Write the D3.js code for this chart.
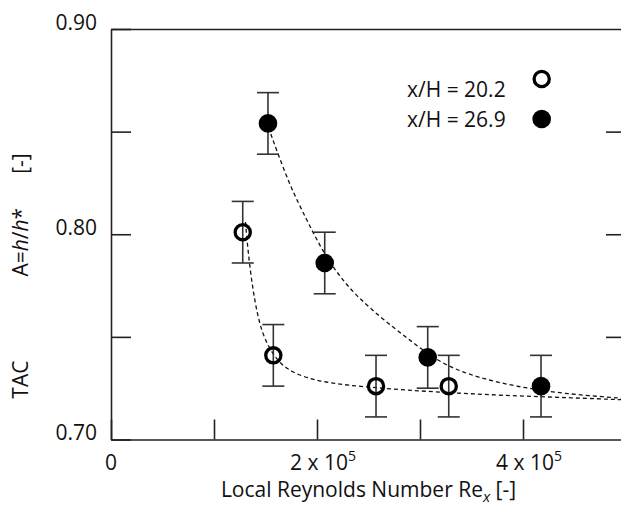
<!DOCTYPE html>
<html>
<head>
<meta charset="utf-8">
<script src="https://cdn.jsdelivr.net/npm/d3@7"></script>
<style>
  body { margin: 0; background: #fff; }
  svg { display: block; font-family: "Open Sans", sans-serif; }
</style>
</head>
<body>
<div id="chart"></div>
<script>
// Data
const reOpen = [1.279e5, 1.576e5, 2.573e5, 3.279e5];   // x/H = 20.2
const tacOpen = [0.801, 0.741, 0.726, 0.726];
const errOpen = [0.015, 0.015, 0.015, 0.015];

const reFilled = [1.524e5, 2.075e5, 3.075e5, 4.175e5]; // x/H = 26.9
const tacFilled = [0.854, 0.786, 0.740, 0.726];
const errFilled = [0.015, 0.015, 0.015, 0.015];

// dashed fit curves
const fitOpenRe = [1.306e5, 1.317e5, 1.350e5, 1.398e5, 1.463e5, 1.576e5, 1.738e5, 2.061e5, 2.547e5, 3.194e5, 3.842e5, 4.488e5, 5.0e5];
const fitOpenTac = [0.806, 0.7989, 0.7827, 0.7665, 0.7519, 0.7405, 0.7325, 0.7276, 0.7252, 0.7230, 0.7214, 0.7203, 0.7193];
const fitFilledRe = [1.529e5, 1.560e5, 1.738e5, 1.900e5, 2.029e5, 2.191e5, 2.385e5, 2.644e5, 2.935e5, 3.194e5, 3.517e5, 3.842e5, 4.165e5, 4.488e5, 5.0e5];
const fitFilledTac = [0.852, 0.8476, 0.8233, 0.8071, 0.7941, 0.7812, 0.7697, 0.7584, 0.7471, 0.7373, 0.7308, 0.7268, 0.7240, 0.7219, 0.7200];

const legendLabels = ["x/H = 20.2", "x/H = 26.9"];

const xTickValues = [0, 1e5, 2e5, 3e5, 4e5, 5e5];
const xTickLabels = [
  { v: 0, base: "0", exp: "" },
  { v: 2e5, base: "2 x 10", exp: "5" },
  { v: 4e5, base: "4 x 10", exp: "5" },
];
const yTickValues = [0.70, 0.75, 0.80, 0.85, 0.90];
const yTickLabels = [0.70, 0.80, 0.90];

// Dimensions
const width = 621;
const height = 509;
const margin = { left: 111, top: 29, bottom: 69 };
const plotRight = 626; // the right frame sits just outside the window

const svg = d3
  .select("#chart")
  .append("svg")
  .attr("width", width)
  .attr("height", height);

// Scales
const xScale = d3.scaleLinear().domain([0, 5e5]).range([margin.left, plotRight]);
const yScale = d3.scaleLinear().domain([0.70, 0.90]).range([height - margin.bottom - 0.5, margin.top]);

const axisColor = "#222";

// Axes (ticks point inward)
const yAxisLeft = svg
  .append("g")
  .attr("transform", `translate(${margin.left},0)`)
  .call(
    d3.axisLeft(yScale)
      .tickValues(yTickValues)
      .tickSize(-20)
      .tickSizeOuter(0)
      .tickPadding(14)
      .tickFormat((d) => (yTickLabels.some((t) => Math.abs(t - d) < 1e-9) ? d3.format(".2f")(d) : ""))
  );

yAxisLeft.selectAll("text")
  .attr("dy", 0)
  .attr("y", 0)
  .style("font-size", "21px")
  .style("font-family", "Open Sans")
  .attr("fill", "#111");

svg
  .append("g")
  .attr("transform", `translate(${plotRight},0)`)
  .call(d3.axisRight(yScale).tickValues([0.75, 0.80, 0.85]).tickSize(-20).tickSizeOuter(0).tickFormat(""));

svg
  .append("g")
  .attr("transform", `translate(0,${yScale(0.70)})`)
  .call(d3.axisBottom(xScale).tickValues(xTickValues).tickSize(-20).tickSizeOuter(0).tickFormat(""));

svg
  .append("g")
  .attr("transform", `translate(0,${yScale(0.90)})`)
  .call(d3.axisTop(xScale).tickValues([]).tickSizeOuter(0));

svg.selectAll(".domain, .tick line")
  .attr("stroke", axisColor)
  .attr("stroke-width", 1.6);

// x tick labels with exponent
const xLab = svg
  .append("g")
  .selectAll("text")
  .data(xTickLabels)
  .join("text")
  .attr("x", (d) => xScale(d.v) + (d.exp ? 6 : 0))
  .attr("y", 470)
  .attr("text-anchor", "middle")
  .style("font-size", "21px")
  .attr("fill", "#111");
xLab.append("tspan").text((d) => d.base);
xLab.append("tspan")
  .attr("dy", -9)
  .style("font-size", "14px")
  .text((d) => d.exp);

// Axis titles
const xTitle = svg
  .append("text")
  .attr("x", (margin.left + plotRight) / 2)
  .attr("y", 497)
  .attr("text-anchor", "middle")
  .style("font-size", "21px")
  .attr("fill", "#111");
xTitle.append("tspan").text("Local Reynolds Number Re");
xTitle.append("tspan").attr("dy", 5).style("font-size", "15px").style("font-style", "italic").text("x");
xTitle.append("tspan").attr("dy", -5).text(" [-]");

const yTitle = svg
  .append("text")
  .attr("transform", "translate(28,276) rotate(-90)")
  .attr("text-anchor", "middle")
  .style("font-size", "21px")
  .attr("fill", "#111");
yTitle.append("tspan").text("TAC");
yTitle.append("tspan").attr("dx", 84).text("A=");
yTitle.append("tspan").style("font-style", "italic").text("h");
yTitle.append("tspan").text("/");
yTitle.append("tspan").style("font-style", "italic").text("h");
yTitle.append("tspan").text("*");
yTitle.append("tspan").attr("dx", 34).text("[-]");

// Fit curves
const line = d3
  .line()
  .x((d) => xScale(d[0]))
  .y((d) => yScale(d[1]))
  .curve(d3.curveBasis);

const curves = [d3.zip(fitOpenRe, fitOpenTac), d3.zip(fitFilledRe, fitFilledTac)];
svg
  .append("g")
  .selectAll("path")
  .data(curves)
  .join("path")
  .attr("d", line)
  .attr("fill", "none")
  .attr("stroke", "#111")
  .attr("stroke-width", 1.3)
  .attr("stroke-dasharray", "4,3");

// Error bars + points
const series = [
  { re: reOpen, tac: tacOpen, err: errOpen, open: true },
  { re: reFilled, tac: tacFilled, err: errFilled, open: false },
];

const capHalf = 11;
series.forEach((s) => {
  const pts = d3.range(s.re.length).map((i) => ({ x: s.re[i], y: s.tac[i], e: s.err[i] }));
  const g = svg.append("g");
  const eb = g.selectAll("g.eb").data(pts).join("g").attr("class", "eb")
    .attr("stroke", "#333").attr("stroke-width", 1.6);
  eb.append("line")
    .attr("x1", (d) => xScale(d.x)).attr("x2", (d) => xScale(d.x))
    .attr("y1", (d) => yScale(d.y + d.e)).attr("y2", (d) => yScale(d.y - d.e));
  eb.append("line")
    .attr("x1", (d) => xScale(d.x) - capHalf).attr("x2", (d) => xScale(d.x) + capHalf)
    .attr("y1", (d) => yScale(d.y + d.e)).attr("y2", (d) => yScale(d.y + d.e));
  eb.append("line")
    .attr("x1", (d) => xScale(d.x) - capHalf).attr("x2", (d) => xScale(d.x) + capHalf)
    .attr("y1", (d) => yScale(d.y - d.e)).attr("y2", (d) => yScale(d.y - d.e));

  g.selectAll("circle").data(pts).join("circle")
    .attr("cx", (d) => xScale(d.x))
    .attr("cy", (d) => yScale(d.y))
    .attr("r", s.open ? 7.6 : 9.3)
    .attr("fill", s.open ? "none" : "#000")
    .attr("stroke", s.open ? "#000" : "none")
    .attr("stroke-width", 3.3);
});

// Legend
const legend = svg.append("g");
legend.selectAll("text").data(legendLabels).join("text")
  .attr("x", 407)
  .attr("y", (d, i) => [96.5, 127][i])
  .style("font-size", "21px")
  .attr("fill", "#111")
  .text((d) => d);
legend.selectAll("circle").data(legendLabels).join("circle")
  .attr("cx", 541.7)
  .attr("cy", (d, i) => [79, 119][i])
  .attr("r", (d, i) => (i === 0 ? 7.6 : 9.3))
  .attr("fill", (d, i) => (i === 0 ? "none" : "#000"))
  .attr("stroke", (d, i) => (i === 0 ? "#000" : "none"))
  .attr("stroke-width", 3.3);
</script>
</body>
</html>
